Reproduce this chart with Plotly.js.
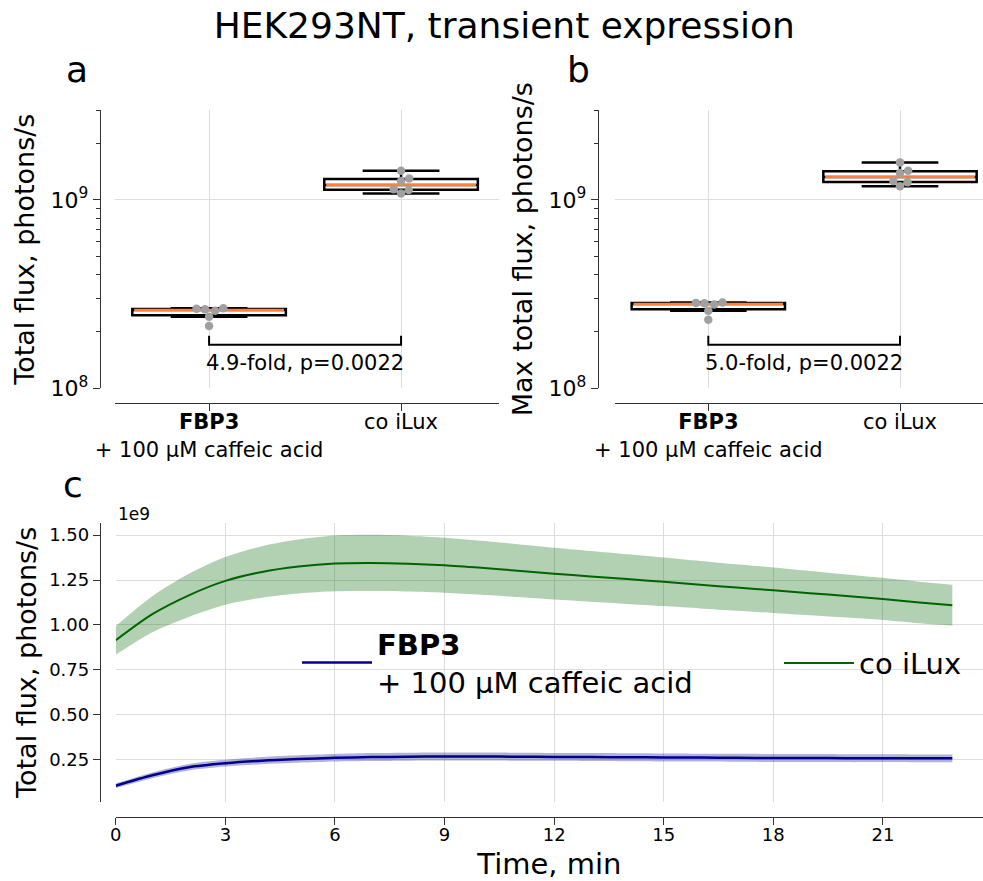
<!DOCTYPE html>
<html><head><meta charset="utf-8">
<script src="https://cdn.plot.ly/plotly-3.0.1.min.js"></script>
<style>html,body{margin:0;padding:0;background:#fff}#chart{width:983px;height:881px}</style>
</head><body><div id="chart"></div>
<script>
// ---------- data ----------
const categories = ['FBP3', 'co iLux'];
const categoryPos = [0, 1];
const tickLabels = ['<b>FBP3</b><br>+ 100 µM caffeic acid', 'co iLux'];
// panel a: total flux, photons/s
const totalFluxFBP3 = [2.66e8, 2.58e8, 2.64e8, 2.63e8, 2.40e8, 2.14e8];
const totalFluxILux = [1.43e9, 1.30e9, 1.26e9, 1.13e9, 1.08e9, 1.14e9];
// panel b: max total flux, photons/s
const maxFluxFBP3 = [2.85e8, 2.78e8, 2.83e8, 2.84e8, 2.58e8, 2.31e8];
const maxFluxILux = [1.58e9, 1.43e9, 1.39e9, 1.24e9, 1.18e9, 1.26e9];
const statLabelA = '4.9-fold, p=0.0022';
const statLabelB = '5.0-fold, p=0.0022';
const logTickVals = [1e8, 1e9];
const logTickText = ['10<sup>8</sup>', '10<sup>9</sup>'];
const logMinorVals = [2e8, 3e8, 4e8, 5e8, 6e8, 7e8, 8e8, 9e8, 2e9, 3e9];

// panel c: kinetics, total flux in units of 1e9 photons/s
const timeMin  = [0, 1, 2, 3, 4, 5, 6, 7, 8, 9, 10, 11, 12, 13, 14, 15, 16, 17, 18, 19, 20, 21, 22, 22.9];
const meanILux = [0.915, 1.06, 1.165, 1.245, 1.295, 1.325, 1.342, 1.345, 1.341, 1.332, 1.318, 1.302, 1.285, 1.27, 1.255, 1.24, 1.224, 1.208, 1.193, 1.177, 1.161, 1.145, 1.125, 1.11];
const sdILux   = [0.08, 0.10, 0.12, 0.133, 0.143, 0.15, 0.155, 0.156, 0.155, 0.153, 0.15, 0.147, 0.144, 0.141, 0.138, 0.135, 0.132, 0.129, 0.126, 0.123, 0.12, 0.117, 0.115, 0.113];
const meanFBP3 = [0.107, 0.165, 0.21, 0.232, 0.246, 0.255, 0.262, 0.266, 0.268, 0.269, 0.269, 0.268, 0.267, 0.266, 0.265, 0.264, 0.263, 0.262, 0.261, 0.261, 0.260, 0.260, 0.259, 0.259];
const sdFBP3   = [0.013, 0.016, 0.018, 0.019, 0.02, 0.021, 0.021, 0.022, 0.022, 0.022, 0.022, 0.022, 0.022, 0.022, 0.022, 0.022, 0.022, 0.022, 0.022, 0.022, 0.022, 0.022, 0.022, 0.022];
const timeTicks = [0, 3, 6, 9, 12, 15, 18, 21];
const fluxTicks = [0.25, 0.5, 0.75, 1.0, 1.25, 1.5];
const seriesNames = ['<b>FBP3</b><br>+ 100 µM caffeic acid', 'co iLux'];

// ---------- styling / layout constants ----------
const W = 983, H = 881;
const FONT = 'DejaVu Sans, Liberation Sans, sans-serif';
const axisColor = '#333333', gridColor = '#dddddd';
const medianColor = '#ff7f3f', pointColor = '#a0a0a0';
const boxYDomain = [0.5593, 0.8751];
const boxYRange = [8, Math.log10(3e9)];
const axA = {domain: [0.117, 0.5076], range: [-0.49, 1.51], ypos: 0.1017};
const axB = {domain: [0.6256, 1.0], range: [-0.487, 1.433], ypos: 0.6083};
const boxXLinePos = 0.5426;
const boxWidth = 0.8, markerDiam = 8.5;

function pct(s, p) { const pos = (s.length - 1) * p; const lo = Math.floor(pos), hi = Math.ceil(pos); return s[lo] + (s[hi] - s[lo]) * (pos - lo); }
function boxStats(v) {
  const s = v.slice().sort((a, b) => a - b);
  const q1 = pct(s, 0.25), med = pct(s, 0.5), q3 = pct(s, 0.75), iqr = q3 - q1;
  const lf = Math.min(...s.filter(x => x >= q1 - 1.5 * iqr));
  const uf = Math.max(...s.filter(x => x <= q3 + 1.5 * iqr));
  return {q1, med, q3, lf, uf};
}

// beeswarm offsets (category units) so markers don't overlap
function swarm(values, ax) {
  const pxPerDecade = (boxYDomain[1] - boxYDomain[0]) * H / (boxYRange[1] - boxYRange[0]);
  const pxPerUnit = (ax.domain[1] - ax.domain[0]) * W / (ax.range[1] - ax.range[0]);
  const ys = values.map(v => Math.log10(v) * pxPerDecade);
  const order = ys.map((y, i) => i).sort((a, b) => ys[a] - ys[b]);
  const placed = [], off = new Array(values.length).fill(0);
  const d = markerDiam;
  for (const i of order) {
    const y = ys[i];
    const cands = [0];
    for (const p of placed) {
      const dy = Math.abs(p.y - y);
      if (dy < d) { const dx = Math.sqrt(d * d - dy * dy); cands.push(p.x + dx, p.x - dx); }
    }
    cands.sort((a, b) => Math.abs(a) - Math.abs(b));
    let chosen = 0;
    for (const c of cands) {
      if (placed.every(p => (p.x - c) ** 2 + (p.y - y) ** 2 >= d * d - 1e-6)) { chosen = c; break; }
    }
    placed.push({x: chosen, y: y});
    off[i] = chosen / pxPerUnit;
  }
  return off;
}

const traces = [];
function boxPanel(groups, ax, xa, ya) {
  groups.forEach((vals, gi) => {
    const st = boxStats(vals);
    traces.push({type: 'box', x: [categoryPos[gi]], q1: [st.q1], median: [st.med], q3: [st.q3],
      lowerfence: [st.lf], upperfence: [st.uf], name: categories[gi],
      width: boxWidth, whiskerwidth: 0.5, boxpoints: false,
      line: {color: '#000', width: 2.5}, fillcolor: '#ffffff',
      xaxis: xa, yaxis: ya, showlegend: false, hoverinfo: 'skip'});
  });
  groups.forEach((vals, gi) => {
    const m = boxStats(vals).med;
    traces.push({type: 'scatter', mode: 'lines', x: [categoryPos[gi] - boxWidth / 2 + 0.01, categoryPos[gi] + boxWidth / 2 - 0.01], y: [m, m],
      line: {color: medianColor, width: 2.5}, xaxis: xa, yaxis: ya, showlegend: false, hoverinfo: 'skip'});
  });
  groups.forEach((vals, gi) => {
    const off = swarm(vals, ax);
    traces.push({type: 'scatter', mode: 'markers', x: vals.map((v, i) => categoryPos[gi] + off[i]), y: vals,
      marker: {color: pointColor, size: markerDiam}, xaxis: xa, yaxis: ya, showlegend: false, hoverinfo: 'y'});
  });
}
boxPanel([totalFluxFBP3, totalFluxILux], axA, 'x', 'y');
boxPanel([maxFluxFBP3, maxFluxILux], axB, 'x2', 'y2');

// significance brackets
const bracketTop = 1.90e8, bracketBase = 1.70e8, statTextY = 1.36e8;
[['x', 'y'], ['x2', 'y2']].forEach(([xa, ya]) => {
  traces.push({type: 'scatter', mode: 'lines', x: [categoryPos[0], categoryPos[0], categoryPos[1], categoryPos[1]],
    y: [bracketTop, bracketBase, bracketBase, bracketTop], line: {color: '#000', width: 2},
    xaxis: xa, yaxis: ya, showlegend: false, hoverinfo: 'skip'});
});

// panel c bands (mean ± sd) + means
function band(mean, sd, fill) {
  const up = mean.map((m, i) => m + sd[i]);
  const lo = mean.map((m, i) => m - sd[i]);
  const base = {type: 'scatter', mode: 'lines', x: timeMin, xaxis: 'x3', yaxis: 'y3', showlegend: false, hoverinfo: 'skip',
    line: {width: 0, shape: 'spline', smoothing: 0.8, color: fill}};
  return [Object.assign({}, base, {y: up}), Object.assign({}, base, {y: lo, fill: 'tonexty', fillcolor: fill})];
}
traces.push(...band(meanFBP3, sdFBP3, 'rgba(0,0,128,0.3)'));
traces.push(...band(meanILux, sdILux, 'rgba(0,100,0,0.3)'));
traces.push({type: 'scatter', mode: 'lines', x: timeMin, y: meanFBP3, name: seriesNames[0], legend: 'legend',
  line: {color: '#00008b', width: 2.5, shape: 'spline', smoothing: 0.8}, xaxis: 'x3', yaxis: 'y3'});
traces.push({type: 'scatter', mode: 'lines', x: timeMin, y: meanILux, name: seriesNames[1], legend: 'legend2',
  line: {color: '#006400', width: 2, shape: 'spline', smoothing: 0.8}, xaxis: 'x3', yaxis: 'y3'});

function catAxis(ax) {
  return {domain: ax.domain, range: ax.range, anchor: 'free', position: boxXLinePos,
    tickmode: 'array', tickvals: categoryPos, ticktext: tickLabels, tickfont: {size: 21, color: '#000'},
    ticklabelstandoff: -7,
    showline: true, linecolor: axisColor, linewidth: 1.3, ticks: 'outside', ticklen: 7, tickwidth: 1.3, tickcolor: axisColor,
    showgrid: true, gridcolor: gridColor, gridwidth: 1, zeroline: false, fixedrange: true, automargin: false};
}
function logAxis(ax, title) {
  return {domain: boxYDomain, type: 'log', range: boxYRange, anchor: 'free', position: ax.ypos,
    tickmode: 'array', tickvals: logTickVals, ticktext: logTickText, tickfont: {size: 22, color: '#000'},
    minor: {tickmode: 'array', tickvals: logMinorVals, ticks: 'outside', ticklen: 4, tickwidth: 1, tickcolor: axisColor, showgrid: false},
    showline: true, linecolor: axisColor, linewidth: 1.3, ticks: 'outside', ticklen: 7, tickwidth: 1.3, tickcolor: axisColor,
    showgrid: true, gridcolor: gridColor, gridwidth: 1, zeroline: false, fixedrange: true, automargin: false,
    title: {text: title, font: {size: 27, color: '#000'}, standoff: 7}};
}
const legendBase = {orientation: 'h', xanchor: 'left', yanchor: 'middle', bgcolor: 'rgba(0,0,0,0)',
  font: {size: 29, color: '#000'}, valign: 'middle', itemwidth: 70, traceorder: 'normal'};

const layout = {
  width: W, height: H, margin: {l: 0, r: 0, t: 0, b: 0}, paper_bgcolor: '#fff', plot_bgcolor: 'rgba(0,0,0,0)',
  font: {family: FONT, color: '#000'}, boxmode: 'overlay', hovermode: 'closest',
  title: {text: 'HEK293NT, transient expression', x: 0.513, xanchor: 'center', y: 0.971, yanchor: 'middle', font: {size: 36, color: '#000'}},
  xaxis: catAxis(axA),
  yaxis: logAxis(axA, 'Total flux, photons/s'),
  xaxis2: catAxis(axB),
  yaxis2: logAxis(axB, 'Max total flux, photons/s'),
  xaxis3: {domain: [0.1178, 1.0], range: [0, 23.74], anchor: 'free', position: 0.0726,
    tickmode: 'array', tickvals: timeTicks, tickfont: {size: 18, color: '#000'}, ticklabelstandoff: -6,
    showline: true, linecolor: axisColor, linewidth: 1.3, ticks: 'outside', ticklen: 7, tickwidth: 1.3, tickcolor: axisColor,
    showgrid: true, gridcolor: gridColor, zeroline: false, fixedrange: true, automargin: false,
    title: {text: 'Time, min', font: {size: 29, color: '#000'}, standoff: 12}},
  yaxis3: {domain: [0.0900, 0.4064], range: [0.018, 1.567], anchor: 'free', position: 0.1017,
    tickmode: 'array', tickvals: fluxTicks, tickformat: '.2f', tickfont: {size: 18, color: '#000'},
    showline: true, linecolor: axisColor, linewidth: 1.3, ticks: 'outside', ticklen: 7, tickwidth: 1.3, tickcolor: axisColor,
    showgrid: true, gridcolor: gridColor, zeroline: false, fixedrange: true, automargin: false,
    title: {text: 'Total flux, photons/s', font: {size: 27, color: '#000'}, standoff: 3}},
  showlegend: true,
  legend: Object.assign({}, legendBase, {x: 297 / W, y: 0.2476}),
  legend2: Object.assign({}, legendBase, {x: 779 / W, y: 0.2474}),
  annotations: [
    {text: statLabelA, xref: 'x', yref: 'y', x: 0.5, y: Math.log10(statTextY), showarrow: false, font: {size: 21}, xanchor: 'center', yanchor: 'middle'},
    {text: statLabelB, xref: 'x2', yref: 'y2', x: 0.5, y: Math.log10(statTextY), showarrow: false, font: {size: 21}, xanchor: 'center', yanchor: 'middle'},
    {text: 'a', xref: 'paper', yref: 'paper', x: 77 / W, y: 1 - 70 / H, showarrow: false, font: {size: 36}, xanchor: 'center', yanchor: 'middle'},
    {text: 'b', xref: 'paper', yref: 'paper', x: 578 / W, y: 1 - 70 / H, showarrow: false, font: {size: 36}, xanchor: 'center', yanchor: 'middle'},
    {text: 'c', xref: 'paper', yref: 'paper', x: 73 / W, y: 1 - 484 / H, showarrow: false, font: {size: 36}, xanchor: 'center', yanchor: 'middle'},
    {text: '1e9', xref: 'paper', yref: 'paper', x: 116 / W, y: 1 - 514 / H, showarrow: false, font: {size: 17}, xanchor: 'left', yanchor: 'middle'}
  ]
};

Plotly.newPlot('chart', traces, layout, {displayModeBar: false, responsive: false});
</script></body></html>
